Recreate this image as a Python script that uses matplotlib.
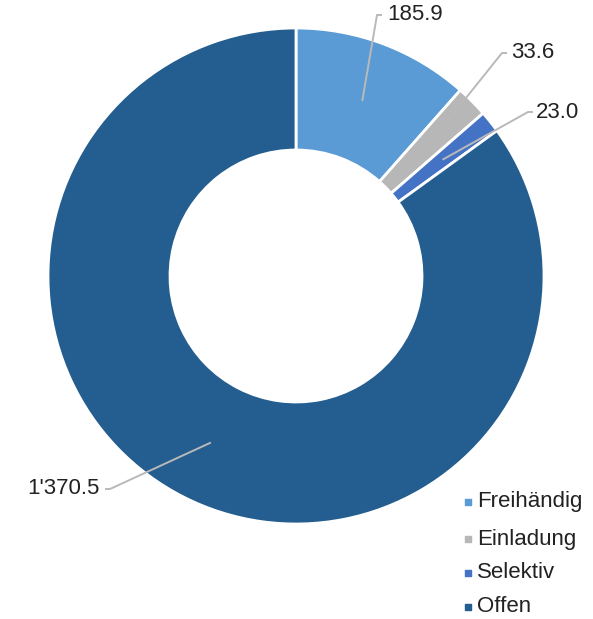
import numpy as np
import matplotlib
matplotlib.use("Agg")
import matplotlib.pyplot as plt

categories = ["Freihändig", "Einladung", "Selektiv", "Offen"]
values = [185.9, 33.6, 23.0, 1370.5]
value_labels = ["185.9", "33.6", "23.0", "1'370.5"]
colors = ["#5b9bd5", "#b7b7b7", "#4472c4", "#245d8f"]

plt.rcParams['font.family'] = ['Liberation Sans', 'DejaVu Sans']

W, H = 593, 619
fig = plt.figure(figsize=(W / 100, H / 100), dpi=100)
ax = fig.add_axes([0, 0, 1, 1])

cx, cy = 296, 276
R_out, R_in = 248, 126

# In inverted y axis, counterclock=True in data coords appears clockwise on screen
wedges, _ = ax.pie(values, colors=colors, startangle=-90, counterclock=True,
                   center=(cx, cy), radius=R_out, frame=True,
                   wedgeprops=dict(width=R_out - R_in, edgecolor='white', linewidth=2))
ax.set_xlim(0, W)
ax.set_ylim(H, 0)
ax.set_aspect('equal')
ax.axis('off')

# leader lines: elbow, end, label position, alignment
elbows = [(377, 15), (502, 53), (528, 112), (110, 489)]
ends = [(382, 15), (507, 53), (533, 112), (105, 489)]
label_pos = [(387, 15), (511, 53), (536, 112), (100, 489)]
aligns = ['left', 'left', 'left', 'right']

r_mid = (R_out + R_in) / 2
for w, lab, el, en, lp, al in zip(wedges, value_labels, elbows, ends, label_pos, aligns):
    ang = np.deg2rad((w.theta1 + w.theta2) / 2)
    sx = cx + r_mid * np.cos(ang)
    sy = cy + r_mid * np.sin(ang)
    ax.plot([sx, el[0], en[0]], [sy, el[1], en[1]], color='#b9b9b9', lw=1.4,
            solid_capstyle='butt', zorder=5)
    ax.text(lp[0], lp[1], lab, ha=al, va='center', fontsize=16, color='#222222')

# legend
leg_y = [502, 539, 573, 607]
for cat, col, y in zip(categories, colors, leg_y):
    ax.scatter([468], [y], marker='s', s=22, color=col, zorder=5)
    ax.text(477, y, cat, ha='left', va='center', fontsize=16, color='#222222')

fig.savefig("out.png", dpi=100)
